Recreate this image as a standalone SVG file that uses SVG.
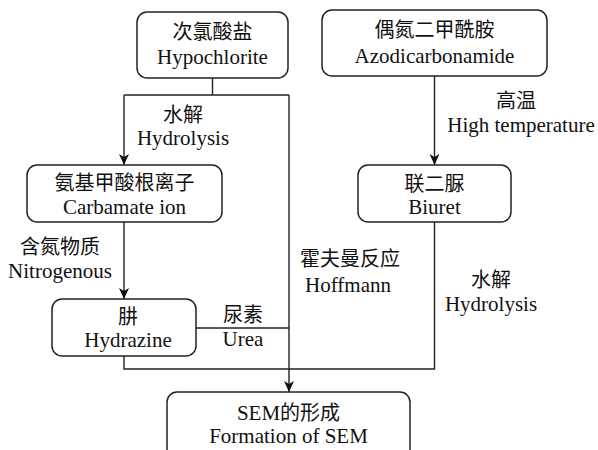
<svg xmlns="http://www.w3.org/2000/svg" width="598" height="450" viewBox="0 0 598 450">
<style>
.box{fill:#fff;stroke:#222;stroke-width:1.5}
.ln{fill:none;stroke:#222;stroke-width:1.4}
text{font-family:"Liberation Serif","Times New Roman",serif;font-size:21px;fill:#111;text-anchor:middle}
.zh{font-family:"Noto Sans CJK SC","Noto Sans CJK JP",sans-serif;font-size:20px}
.en{font-family:"Liberation Serif","Times New Roman",serif}
</style>
<defs>
<marker id="ah" markerUnits="userSpaceOnUse" markerWidth="12" markerHeight="12" viewBox="0 0 12 10" refX="11" refY="5" orient="auto">
<path d="M0,0 L11,5 L0,10 L3,5 z" fill="#111"/>
</marker>
</defs>
<rect width="598" height="450" fill="#fff"/>
<g id="connectors">
<path class="ln" d="M212.5,78 V95 M124,95 H289"/>
<path class="ln" d="M124,95 V165" marker-end="url(#ah)"/>
<path class="ln" d="M289,95 V392" marker-end="url(#ah)"/>
<path class="ln" d="M434.5,76 V165" marker-end="url(#ah)"/>
<path class="ln" d="M124,222 V299" marker-end="url(#ah)"/>
<path class="ln" d="M434.5,222 V369 H124 V356"/>
<path class="ln" d="M196,328 H289"/>
</g>
<g id="labels">
<text class="zh" x="183" y="122">水解</text>
<text x="183" y="145">Hydrolysis</text>
<text class="zh" x="516" y="108">高温</text>
<text x="521" y="132">High temperature</text>
<text class="zh" x="60" y="254">含氮物质</text>
<text x="60" y="278">Nitrogenous</text>
<text class="zh" x="243" y="322">尿素</text>
<text x="243" y="346">Urea</text>
<text class="zh" x="350" y="266">霍夫曼反应</text>
<text x="348" y="292">Hoffmann</text>
<text class="zh" x="491" y="287">水解</text>
<text x="491" y="311">Hydrolysis</text>
</g>
<g id="hypochlorite">
<rect class="box" x="137" y="12" width="151" height="66" rx="10"/>
<text class="zh" x="212.5" y="39">次氯酸盐</text>
<text x="212.5" y="64">Hypochlorite</text>
</g>
<g id="azodicarbonamide">
<rect class="box" x="322" y="10" width="225" height="66" rx="10"/>
<text class="zh" x="434.5" y="37">偶氮二甲酰胺</text>
<text x="434.5" y="63">Azodicarbonamide</text>
</g>
<g id="carbamate">
<rect class="box" x="27" y="165" width="195" height="57" rx="10"/>
<text class="zh" x="124.5" y="190">氨基甲酸根离子</text>
<text x="124.5" y="214">Carbamate ion</text>
</g>
<g id="biuret">
<rect class="box" x="358" y="165" width="153" height="57" rx="10"/>
<text class="zh" x="434.5" y="191">联二脲</text>
<text x="434.5" y="214">Biuret</text>
</g>
<g id="hydrazine">
<rect class="box" x="52" y="299" width="144" height="57" rx="10"/>
<text class="zh" x="128" y="324">肼</text>
<text x="128" y="347">Hydrazine</text>
</g>
<g id="sem">
<rect class="box" x="167" y="392" width="243" height="72" rx="10"/>
<text x="288.5" y="420"><tspan class="en">SEM</tspan><tspan class="zh" font-size="20">的形成</tspan></text>
<text x="288.5" y="443">Formation of SEM</text>
</g>
</svg>
